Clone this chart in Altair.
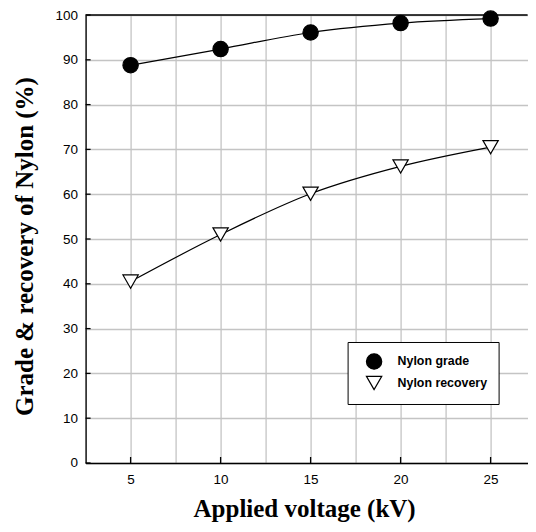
import altair as alt
import pandas as pd

# ---- data ----
voltage = [5, 10, 15, 20, 25]
nylon_grade = [88.8, 92.4, 96.1, 98.2, 99.2]
nylon_recovery = [40.5, 51.0, 60.1, 66.2, 70.5]
series_names = ["Nylon grade", "Nylon recovery"]

x_grid_values = [2.5, 5, 7.5, 10, 12.5, 15, 17.5, 20, 22.5, 25]
x_tick_values = [5, 10, 15, 20, 25]
y_tick_values = [0, 10, 20, 30, 40, 50, 60, 70, 80, 90, 100]
top_value = [100]

df = pd.DataFrame({
    "voltage": voltage + voltage,
    "value": nylon_grade + nylon_recovery,
    "series": [series_names[0]] * len(voltage) + [series_names[1]] * len(voltage),
})

# plot area: 18 px per kV; the reference plot runs past the right edge
W, H = 442, 448
x_max = 2.5 + W / 18.0

x_scale = alt.Scale(domain=[2.5, x_max], nice=False, zero=False)
y_scale = alt.Scale(domain=[0, 100], nice=False, zero=True)

x_axis = alt.Axis(
    values=x_grid_values,
    labelExpr="datum.value % 5 == 0 ? datum.label : ''",
    labelPadding=10,
    title="Applied voltage (kV)",
    titleX=218.5,
    titleY=54,
    titleBaseline="alphabetic",
    titleAlign="center",
    grid=True,
    ticks=False,
    labelFlush=False,
)
y_axis = alt.Axis(
    values=y_tick_values,
    labelPadding=8,
    title="Grade & recovery of Nylon (%)",
    titleAngle=270,
    titleX=-53,
    titleY=231,
    titleBaseline="alphabetic",
    titleAlign="center",
    grid=True,
    ticks=False,
)

legend = alt.Legend(
    title=None,
    orient="none",
    legendX=262,
    legendY=327,
    fillColor="white",
    strokeColor="black",
    padding=11,
    symbolOffset=7,
    rowPadding=1.5,
    symbolSize=234,
    symbolStrokeColor="black",
    symbolStrokeWidth=1.2,
    labelFont="Liberation Sans",
    labelFontWeight="bold",
    labelFontSize=12.4,
    labelColor="black",
    labelOffset=15,
)

base = alt.Chart(df)

lines = base.mark_line(interpolate="monotone", color="black", strokeWidth=1.2).encode(
    x=alt.X("voltage:Q", scale=x_scale, axis=x_axis),
    y=alt.Y("value:Q", scale=y_scale, axis=y_axis),
    detail="series:N",
)

points = base.mark_point(filled=True, strokeWidth=1.2, opacity=1, size=234).encode(
    x=alt.X("voltage:Q", scale=x_scale, axis=x_axis),
    y=alt.Y("value:Q", scale=y_scale, axis=y_axis),
    shape=alt.Shape("series:N", scale=alt.Scale(domain=series_names, range=["circle", "triangle-down"]), legend=legend),
    fill=alt.Fill("series:N", scale=alt.Scale(domain=series_names, range=["black", "white"]), legend=legend),
    stroke=alt.Stroke("series:N", scale=alt.Scale(domain=series_names, range=["black", "black"]), legend=legend),
)

x_ticks = alt.Chart(pd.DataFrame({"voltage": x_tick_values})).mark_rule(color="black", strokeWidth=1.3).encode(
    x=alt.X("voltage:Q", scale=x_scale, axis=x_axis),
    y=alt.value(H),
    y2=alt.value(H - 6),
)

y_ticks = alt.Chart(pd.DataFrame({"value": y_tick_values})).mark_rule(color="black", strokeWidth=1.3).encode(
    y=alt.Y("value:Q", scale=y_scale, axis=y_axis),
    x=alt.value(0),
    x2=alt.value(5),
)

top_border = alt.Chart(pd.DataFrame({"value": top_value})).mark_rule(color="black", strokeWidth=1.3).encode(
    y=alt.Y("value:Q", scale=y_scale, axis=y_axis),
    x=alt.value(0),
    x2=alt.value(W),
)

chart = alt.layer(lines, points, x_ticks, y_ticks, top_border).properties(
    width=W,
    height=H,
    autosize=alt.AutoSizeParams(type="none"),
    padding={"left": 77.6, "top": 7, "right": 0, "bottom": 61},
).configure_view(stroke=None).configure_axis(
    labelFont="Liberation Sans",
    labelFontSize=13.5,
    labelColor="black",
    titleFont="Liberation Serif",
    titleFontSize=25,
    titleFontWeight="bold",
    titleColor="black",
    domainColor="black",
    domainWidth=1.3,
    gridColor="#c4c4c4",
    gridWidth=1.3,
)

chart.save("out.html", embed_options={"renderer": "svg", "actions": False})
